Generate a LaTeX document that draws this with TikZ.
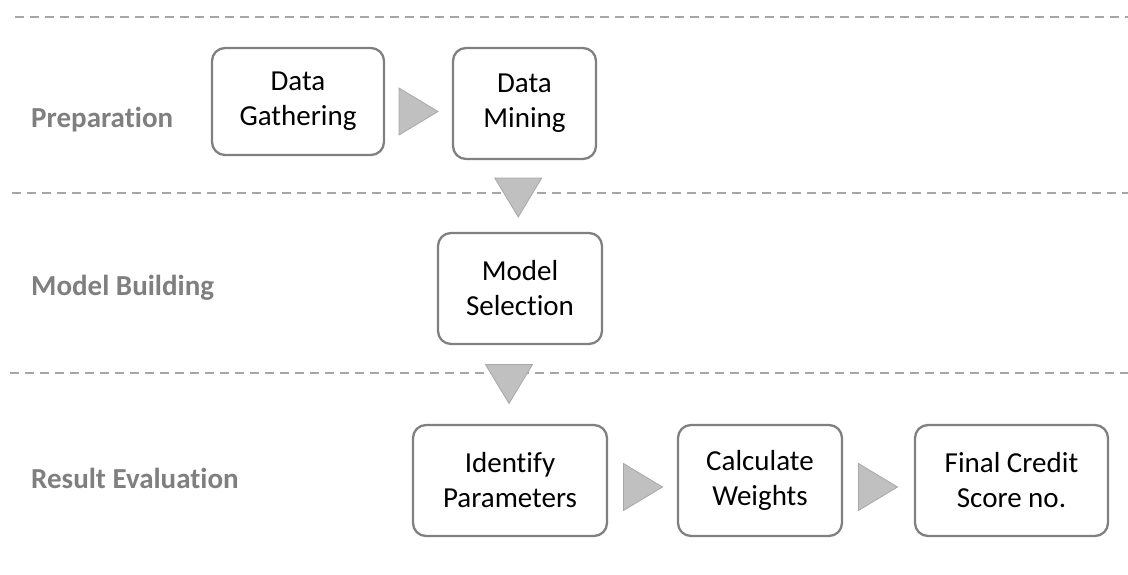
\documentclass[tikz,border=0pt]{standalone}
\usepackage{fontspec}
\setmainfont{Carlito}[Ligatures=NoCommon]
\usetikzlibrary{calc}
\definecolor{boxgray}{HTML}{808080}
\definecolor{labgray}{HTML}{7F7F7F}
\definecolor{sepgray}{HTML}{A6A6A6}
\definecolor{trifill}{HTML}{C0C0C0}
\definecolor{triedge}{HTML}{A8A8A8}
\newcommand\myRightTri[1]{%
  \filldraw[tri] ($(#1)+(-19.5,-23.5)$) -- ($(#1)+(19.5,0)$) -- ($(#1)+(-19.5,23.5)$) -- cycle;}
\newcommand\myDownTri[1]{%
  \filldraw[tri] ($(#1)+(-23.5,-19.5)$) -- ($(#1)+(23.5,-19.5)$) -- ($(#1)+(0,19.5)$) -- cycle;}
\begin{document}
\begin{tikzpicture}[x=1pt,y=-1pt,
  box/.style={draw=boxgray, line width=2.3pt, rounded corners=13pt, fill=white,
    align=center, inner sep=0pt, font=\fontsize{29}{35}\selectfont},
  lab/.style={anchor=base west, inner sep=0pt, text=labgray,
    font=\bfseries\fontsize{29}{35}\selectfont},
  sep/.style={draw=sepgray, line width=1.5pt, dash pattern=on 9pt off 6pt},
  tri/.style={fill=trifill, draw=triedge, line width=0.8pt}]
\useasboundingbox (0,0) rectangle (1128,574);

% separators
\coordinate (s1a) at (15,17);   \coordinate (s1b) at (1128,17);
\coordinate (s2a) at (12,193);  \coordinate (s2b) at (1128,193);
\coordinate (s3a) at (10,373);  \coordinate (s3b) at (1128,373);
\draw[sep] (s1a) -- (s1b);
\draw[sep] (s2a) -- (s2b);
\draw[sep] (s3a) -- (s3b);

% phase labels
\node[lab] (lprep) at (31,127) {Preparation};
\node[lab] (lmod)  at (31,295) {Model Building};
\node[lab] (lres)  at (31,488) {Result Evaluation};

% boxes
\node[box, minimum width=172pt, minimum height=107pt] (dg) at (298,101.5) {Data\\Gathering};
\node[box, minimum width=143pt, minimum height=111pt] (dm) at (524.5,103.5) {Data\\Mining};
\node[box, minimum width=164pt, minimum height=111pt] (ms) at (520,288.5) {Model\\Selection};
\node[box, minimum width=194pt, minimum height=111pt] (ip) at (510,480.5) {Identify\\Parameters};
\node[box, minimum width=164pt, minimum height=111pt] (cw) at (760,480.5) {Calculate\\Weights};
\node[box, minimum width=193pt, minimum height=111pt] (fc) at (1011.5,480.5) {Final Credit\\Score no.};

% triangle connectors
\coordinate (a1) at ($(dg.east)!0.5!(dm.west)+(0,9)$);
\coordinate (a2) at ($(ip.east)!0.5!(cw.west)+(0.5,6.5)$);
\coordinate (a3) at ($(cw.east)!0.5!(fc.west)+(-0.5,6.5)$);
\coordinate (t1) at ($(dm.south)!0.5!(ms.north)+(-4,1.5)$);
\coordinate (t2) at ($(ms.south)!0.5!(ip.north)+(-6,-0.5)$);
\myRightTri{a1}
\myRightTri{a2}
\myRightTri{a3}
\myDownTri{t1}
\myDownTri{t2}
\end{tikzpicture}
\end{document}
